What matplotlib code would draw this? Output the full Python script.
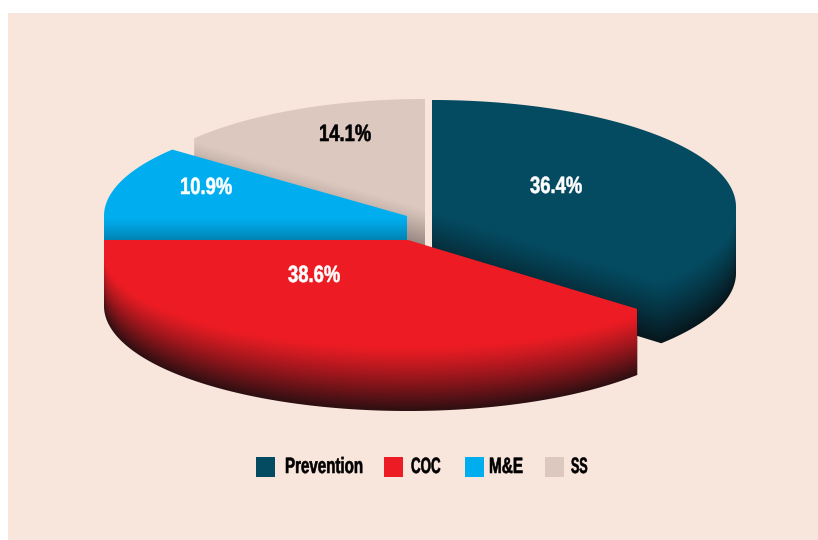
import numpy as np
import matplotlib
matplotlib.use('Agg')
import matplotlib.pyplot as plt
from matplotlib.patches import Polygon, Rectangle
from matplotlib.patheffects import AbstractPathEffect
from matplotlib.transforms import Affine2D

labels = ['Prevention', 'COC', 'M&E', 'SS']
shares = [36.4, 38.6, 10.9, 14.1]
share_text = ['36.4%', '38.6%', '10.9%', '14.1%']

colors = ['#044a60', '#ed1c24', '#00aeef', '#dcc8bf']
dark = ['#07161c', '#2c0f12', '#00181f', '#5c514c']
text_colors = ['white', 'white', 'white', 'black']

# pixel geometry of each exploded slice: centre, radii
cx = [432, 408, 407, 425]
cy = [207, 240, 216, 206]
rx = [304, 304, 303, 298]
ry = [107, 105, 105, 107]
depth = 66
# where the dark ramp starts under the top face
edge_off = [5, 13, 2, 3]
arc_off = [31, 13, 300, 300]
arc_ry = [64, 94, 0, 0]

text_xy = [(530, 193), (288, 282), (180, 194), (319, 141)]
legend_box_x = [256, 384, 465, 545]
legend_text_x = [285, 411, 489, 571]
legend_squeeze = [0.68, 0.60, 0.69, 0.56]

W, H = 818, 540


class Squeeze(AbstractPathEffect):
    # no condensed font installed, so narrow the glyphs from the text start
    def __init__(self, sx, stroke=0.4):
        super().__init__()
        self.sx = sx
        self.stroke = stroke

    def draw_path(self, renderer, gc, tpath, affine, rgbFace=None):
        gc.set_linewidth(self.stroke)
        renderer.draw_path(gc, tpath, Affine2D().scale(self.sx, 1) + affine, rgbFace)


def hull(pts):
    pts = sorted(set(map(tuple, np.round(pts, 3))))

    def half(points):
        out = []
        for p in points:
            while len(out) > 1:
                a = np.subtract(out[-1], out[-2])
                b = np.subtract(p, out[-1])
                if a[0] * b[1] - a[1] * b[0] > 0:
                    break
                out.pop()
            out.append(p)
        return out[:-1]
    return np.array(half(pts) + half(pts[::-1]))


fig = plt.figure(figsize=(W / 100, H / 100), dpi=100, facecolor='white')
ax = fig.add_axes([0, 0, 1, 1])
ax.axis('off')
ax.add_patch(Rectangle((8, 13), W - 8, H - 13, color='#f8e5db', lw=0, zorder=0))

# clockwise from 12 o'clock
ends = 90 - np.cumsum(shares) * 3.6
starts = np.r_[90, ends[:-1]]
xg = np.arange(W) + 0.5
yg = (np.arange(H) + 0.5)[:, None]

# back slices first, COC sits on top
for i, z in zip([3, 2, 0, 1], [1, 2, 3, 4]):
    t = np.radians(np.linspace(starts[i], ends[i], 200))
    arc = np.c_[cx[i] + rx[i] * np.cos(t), cy[i] - ry[i] * np.sin(t)]
    face = np.vstack([[cx[i], cy[i]], arc])
    shape = hull(np.vstack([face, face + [0, depth]]))

    # lower outline of the top face, column by column
    closed = np.vstack([face, face[0]])
    bottom = np.full(W, -1.0)
    for (x0, y0), (x1, y1) in zip(closed[:-1], closed[1:]):
        if x0 == x1:
            continue
        lo, hi = min(x0, x1), max(x0, x1)
        col = (xg >= lo) & (xg <= hi)
        bottom[col] = np.maximum(bottom[col], y0 + (xg[col] - x0) * (y1 - y0) / (x1 - x0))
    bottom[bottom < 0] = cy[i]

    u = np.clip((xg - cx[i]) / rx[i], -1, 1)
    iso = np.minimum(bottom + edge_off[i], cy[i] + arc_off[i] + arc_ry[i] * np.sqrt(1 - u ** 2))
    ramp = np.clip((yg - iso) / np.maximum(bottom + depth - iso, 1), 0, 1)[:, :, None] ** 1.15
    c0 = np.array(matplotlib.colors.to_rgb(colors[i]))
    c1 = np.array(matplotlib.colors.to_rgb(dark[i]))
    img = c0 + (c1 - c0) * ramp

    im = ax.imshow(img, extent=(0, W, H, 0), origin='upper', aspect='auto',
                   interpolation='nearest', zorder=z)
    im.set_clip_path(Polygon(shape, transform=ax.transData))

ax.set_xlim(0, W)
ax.set_ylim(H, 0)

for i in range(4):
    ax.text(text_xy[i][0], text_xy[i][1], share_text[i], color=text_colors[i], ha='left', va='baseline',
            family='Liberation Sans', weight='bold', fontsize=17, zorder=6,
            path_effects=[Squeeze(0.78)])
    ax.add_patch(Rectangle((legend_box_x[i], 457), 19, 20, color=colors[i], lw=0, zorder=6))
    ax.text(legend_text_x[i], 473, labels[i], color='black', ha='left', va='baseline',
            family='Liberation Sans', weight='bold', fontsize=16, zorder=6,
            path_effects=[Squeeze(legend_squeeze[i])])

plt.savefig('out.png', dpi=100)
